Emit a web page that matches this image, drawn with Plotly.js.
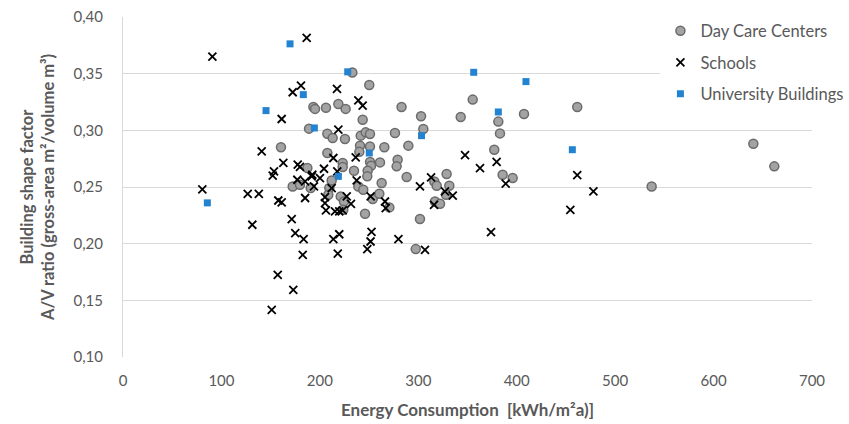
<!DOCTYPE html>
<html>
<head>
<meta charset="utf-8">
<script src="https://cdn.plot.ly/plotly-3.0.1.min.js"></script>
<style>html,body{margin:0;padding:0;background:#fff;}#chart{width:849px;height:424px;}</style>
</head>
<body>
<div id="chart"></div>
<script>
// Day Care Centers
const dayCareX = [233, 250.2, 193.4, 195.1, 206.2, 218.8, 226.2, 243.5, 283, 189, 207.6, 213, 225.5, 241.5, 246.6, 250.9, 276.3, 160.5, 240.8, 250.9, 265.5, 207.6, 240.1, 223.2, 223.2, 261.1, 279, 278, 251, 252, 234.7, 248.6, 187.3, 248.2, 262.8, 288.2, 172.4, 179.8, 190.7, 209.6, 212, 239.1, 244.1, 208.6, 221.2, 224.5, 253.7, 260.4, 270.6, 245.9, 301.7, 297.4, 302.8, 305.1, 289.9, 355.3, 461.5, 343.1, 407.4, 381.3, 383, 377.2, 328.8, 385.7, 395.9, 316.3, 318.7, 331.5, 328.2, 317, 322.1, 537.1, 640.4, 661.7, 223.8];
const dayCareY = [0.351, 0.340, 0.3206, 0.3189, 0.320, 0.3233, 0.3189, 0.3094, 0.3206, 0.3015, 0.297, 0.2933, 0.2924, 0.2953, 0.2982, 0.2968, 0.2977, 0.285, 0.2865, 0.2858, 0.285, 0.280, 0.281, 0.2712, 0.2676, 0.2717, 0.2741, 0.2682, 0.272, 0.2688, 0.2644, 0.2644, 0.2667, 0.2594, 0.2535, 0.2588, 0.2505, 0.252, 0.2491, 0.2491, 0.2558, 0.2505, 0.2476, 0.2432, 0.2417, 0.2372, 0.2394, 0.244, 0.232, 0.2264, 0.2217, 0.1952, 0.3124, 0.3012, 0.2865, 0.3271, 0.3206, 0.3118, 0.3144, 0.3077, 0.2973, 0.2829, 0.2614, 0.2608, 0.2579, 0.2549, 0.2511, 0.2511, 0.2432, 0.2372, 0.2352, 0.2505, 0.2882, 0.2682, 0.230];
// Schools
const schoolsX = [90.8, 80.6, 126.7, 138, 131.4, 186.6, 180.8, 172.4, 217.4, 161.2, 239.1, 243.5, 218.8, 140.9, 213.7, 236.4, 162.9, 177.5, 179.8, 204.2, 153.4, 192.3, 152.1, 217.7, 177.1, 185, 191.7, 194, 200.1, 212, 237.4, 185, 205.2, 227.3, 231.6, 251.6, 266.2, 266.9, 205.2, 206.2, 215.4, 219.7, 223.2, 301.7, 313, 171.4, 175, 183.5, 213.7, 219.7, 252.5, 251.5, 248.2, 279.8, 182.6, 218.2, 306.8, 157.8, 161.2, 157.2, 173, 151.1, 347.5, 379.6, 362.7, 461.5, 327.1, 335, 388.8, 316, 373.9, 454.5, 477.9];
const schoolsY = [0.365, 0.248, 0.244, 0.244, 0.2167, 0.3816, 0.3395, 0.3336, 0.3365, 0.310, 0.3265, 0.3218, 0.3006, 0.2814, 0.2756, 0.2761, 0.2712, 0.2697, 0.2677, 0.2661, 0.2638, 0.2608, 0.260, 0.2638, 0.2564, 0.2549, 0.2594, 0.2505, 0.2579, 0.2491, 0.2558, 0.2403, 0.2411, 0.2417, 0.2352, 0.2417, 0.2372, 0.2314, 0.2358, 0.2293, 0.2284, 0.2284, 0.2293, 0.2505, 0.2584, 0.2217, 0.2093, 0.204, 0.204, 0.2083, 0.2105, 0.2019, 0.1952, 0.204, 0.1901, 0.1913, 0.1946, 0.2381, 0.2364, 0.1725, 0.1592, 0.1415, 0.2782, 0.2721, 0.2667, 0.2604, 0.2461, 0.2423, 0.2529, 0.2343, 0.2102, 0.2299, 0.2461];
// University Buildings
const uniX = [85.7, 169.7, 228.3, 183.2, 145.3, 194.4, 250.2, 218.8, 356.3, 409.4, 381.3, 303.3, 456.5];
const uniY = [0.236, 0.3763, 0.3516, 0.3315, 0.3174, 0.3021, 0.280, 0.2594, 0.3512, 0.343, 0.3162, 0.2953, 0.2829];

const seriesNames = ['Day Care Centers', 'Schools', 'University Buildings'];
const xTickVals = [0, 100, 200, 300, 400, 500, 600, 700];
const yTickVals = [0.10, 0.15, 0.20, 0.25, 0.30, 0.35, 0.40];

const FONT = 'Lato, "Open Sans", sans-serif';
const GREY = '#595959';

const traces = [
  {x: dayCareX, y: dayCareY, name: seriesNames[0], type: 'scatter', mode: 'markers', legendgroup: 'a',
   marker: {symbol: 'circle', size: 9, color: '#a3a3a3', line: {color: '#6b6b6b', width: 1.5}}},
  {x: schoolsX, y: schoolsY, name: seriesNames[1], type: 'scatter', mode: 'markers', legendgroup: 'b',
   marker: {symbol: 'x-thin-open', size: 8, color: '#000000', line: {color: '#000000', width: 1.8}}},
  {x: uniX, y: uniY, name: seriesNames[2], type: 'scatter', mode: 'markers', legendgroup: 'c',
   marker: {symbol: 'square', size: 7, color: '#2383d0', line: {width: 0}}}
];

const layout = {
  width: 849, height: 424,
  margin: {l: 123, r: 37, t: 17, b: 67, pad: 0, autoexpand: false},
  paper_bgcolor: '#ffffff', plot_bgcolor: '#ffffff',
  separators: ', ',
  font: {family: FONT, size: 15, color: GREY},
  showlegend: true,
  legend: {x: 0.78, xanchor: 'left', y: 1.01, yanchor: 'top', bgcolor: '#ffffff',
           font: {family: FONT, size: 16.5, color: GREY}, tracegroupgap: 7, traceorder: 'grouped', itemwidth: 30},
  xaxis: {range: [0, 700], tickvals: xTickVals, ticktext: xTickVals.map(String), showgrid: false, zeroline: false,
          showline: false, ticks: '', ticklabelstandoff: 13, tickfont: {family: FONT, size: 15, color: GREY},
          title: {text: 'Energy Consumption  [kWh/m²a)]', font: {family: FONT, size: 17, color: GREY, weight: 'bold'}, standoff: 16}},
  yaxis: {range: [0.10, 0.40], tickvals: yTickVals, tickformat: '.2f', showgrid: true, gridcolor: '#d9d9d9', gridwidth: 1,
          zeroline: false, showline: true, linecolor: '#d9d9d9', linewidth: 1, ticks: '', ticklabelstandoff: 16,
          tickfont: {family: FONT, size: 15, color: GREY},
          title: {text: 'Building shape factor<br>A/V ratio (gross-area m²/volume m³)', font: {family: FONT, size: 16.5, color: GREY, weight: 'bold'}, standoff: 14}}
};

Plotly.newPlot('chart', traces, layout, {displayModeBar: false, staticPlot: true});
</script>
</body>
</html>
